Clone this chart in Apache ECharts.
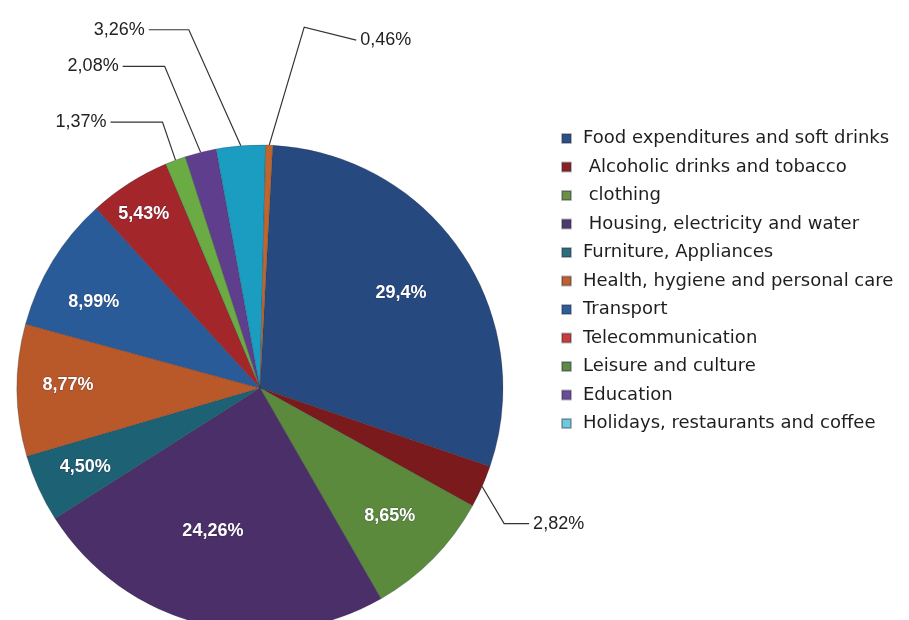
<!DOCTYPE html>
<html>
<head>
<meta charset="utf-8">
<script src="https://cdn.jsdelivr.net/npm/echarts@6/dist/echarts.min.js"></script>
<style>
html,body{margin:0;padding:0;background:#fff;}
#chart{width:909px;height:620px;}
</style>
</head>
<body>
<div id="chart"></div>
<script>
// ---- data ----
const categories = [
  'Food expenditures and soft drinks',
  ' Alcoholic drinks and tobacco',
  ' clothing',
  ' Housing, electricity and water',
  'Furniture, Appliances',
  'Health, hygiene and personal care',
  'Transport',
  'Telecommunication',
  'Leisure and culture',
  'Education',
  'Holidays, restaurants and coffee',
  'Other'
];
const values = [29.4, 2.82, 8.65, 24.26, 4.50, 8.77, 8.99, 5.43, 1.37, 2.08, 3.26, 0.46];
const valueLabels = ['29,4%', '2,82%', '8,65%', '24,26%', '4,50%', '8,77%', '8,99%', '5,43%', '1,37%', '2,08%', '3,26%', '0,46%'];
const legendNames = categories.slice(0, 11);

// ---- styles ----
const sliceColors = ['#264a7f', '#7b1a1c', '#5b8a3d', '#4a2f68', '#1d6175', '#b9592a', '#285b98', '#a3262b', '#6aab44', '#5f3f8d', '#1b9dc2', '#c0662c'];
const legendColors = ['#2b4f86', '#8c1f24', '#6a8f45', '#4f3a70', '#2d6d7e', '#c0602f', '#2f5d9a', '#c83c3d', '#5e8a48', '#6a4c98', '#6ccbdc'];
const LABEL_FONT = '"Liberation Sans", Arial, Helvetica, sans-serif';
const CX = 260, CY = 388, R = 243;
// inside label placement: [radius ratio, angular shift in degrees] (null = outside label)
const insidePlace = [[0.70, 0], null, [0.75, 0], [0.62, 4.4], [0.79, 0], [0.79, 1.5], [0.77, -4.2], [0.86, -1.2], null, null, null, null];
// outside leader lines: first segment vector, second segment vector (relative, px)
const outsideLines = {
  1:  [[22, 37], [25, 0]],
  8:  [[-13, -38], [-52, 0]],
  9:  [[-36, -86], [-42, 0]],
  10: [[-52, -116], [-40, 0]],
  11: [[35, -118], [52, 13]]
};

const seriesData = values.map((v, i) => {
  const item = { name: categories[i], value: v, itemStyle: { color: sliceColors[i] } };
  if (insidePlace[i] == null) {
    item.label = { position: 'outside', color: '#222', fontFamily: LABEL_FONT, fontWeight: 'normal', fontSize: 18, textBorderWidth: 0 };
    item.labelLine = { show: true, length: 20, length2: 20, lineStyle: { color: '#333', width: 1.2 } };
  } else {
    item.label = { position: 'inside', fontFamily: LABEL_FONT, fontSize: 18, fontWeight: 'bold' };
    item.labelLine = { show: false };
  }
  return item;
});

const chart = echarts.init(document.getElementById('chart'), null, { renderer: 'canvas' });
chart.setOption({
  backgroundColor: '#ffffff',
  animation: false,
  legend: {
    orient: 'vertical',
    left: 556,
    top: 124,
    icon: 'rect',
    itemWidth: 9,
    itemHeight: 9,
    itemGap: 9.5,
    textStyle: { fontFamily: 'DejaVu Sans', fontSize: 18, color: '#1e1e1e', lineHeight: 19, padding: [0, 0, 0, 7] },
    data: legendNames.map((n, i) => ({ name: n, itemStyle: { color: legendColors[i] } }))
  },
  series: [{
    type: 'pie',
    center: [CX, CY],
    radius: [0, R],
    startAngle: 87,
    clockwise: true,
    avoidLabelOverlap: false,
    itemStyle: { borderColor: 'rgba(40,40,60,0.35)', borderWidth: 0.8 },
    label: {
      show: true,
      formatter: p => valueLabels[p.dataIndex],
      fontFamily: LABEL_FONT,
      fontSize: 18,
      fontWeight: 'bold',
      color: '#ffffff',
      textBorderColor: 'rgba(40,30,60,0.35)',
      textBorderWidth: 1
    },
    labelLayout: function (p) {
      const i = p.dataIndex;
      const place = insidePlace[i];
      if (place == null) {
        const seg = outsideLines[i];
        const p0 = p.labelLinePoints[0];
        const p1 = [p0[0] + seg[0][0], p0[1] + seg[0][1]];
        const p2 = [p1[0] + seg[1][0], p1[1] + seg[1][1]];
        const right = seg[1][0] >= 0;
        return {
          x: p2[0] + (right ? 4 : -4),
          y: p2[1],
          align: right ? 'left' : 'right',
          verticalAlign: 'middle',
          labelLinePoints: [p0, p1, p2]
        };
      }
      const lx = p.labelRect.x + p.labelRect.width / 2;
      const ly = p.labelRect.y + p.labelRect.height / 2;
      const ang = Math.atan2(ly - CY, lx - CX) + place[1] * Math.PI / 180;
      const r = place[0] * R;
      return { dx: CX + r * Math.cos(ang) - lx, dy: CY + r * Math.sin(ang) - ly };
    },
    data: seriesData
  }]
});
</script>
</body>
</html>
